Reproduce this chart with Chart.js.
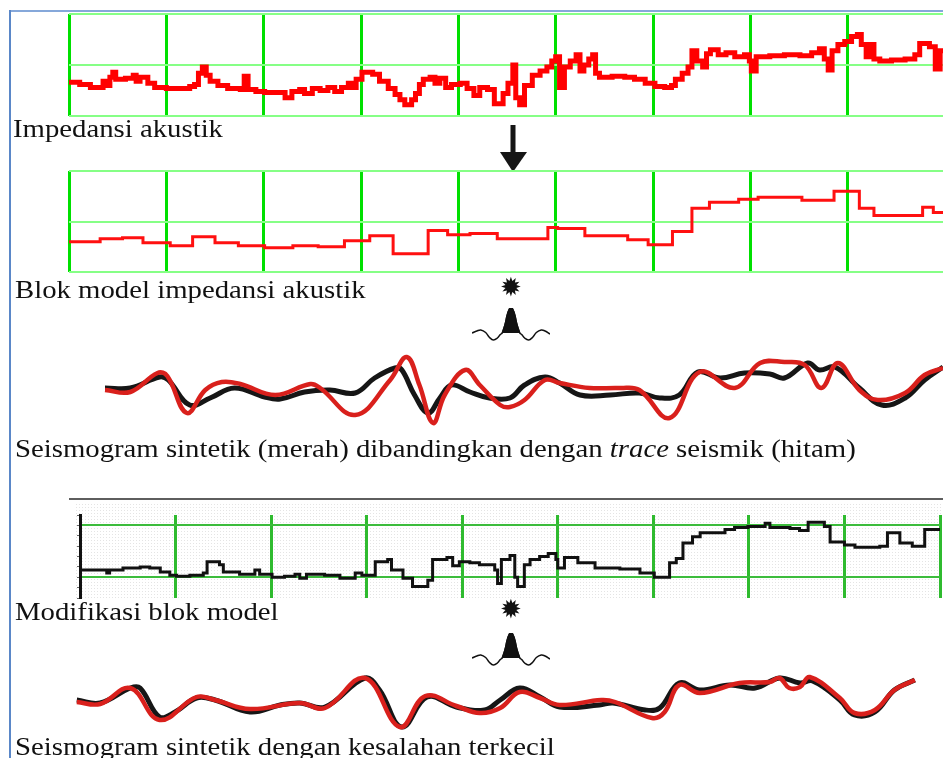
<!DOCTYPE html>
<html>
<head>
<meta charset="utf-8">
<script src="https://cdn.jsdelivr.net/npm/chart.js@4.4.1/dist/chart.umd.min.js"></script>
<style>
  html, body { margin: 0; padding: 0; width: 943px; height: 758px; overflow: hidden; background: #fff; }
  .c { position: absolute; }
  .lbl { position: absolute; font-family: 'Liberation Serif', 'Times New Roman', serif; font-size: 25px; line-height: 25px;
         color: #111; white-space: nowrap; transform-origin: 0 0; transform: scaleX(1.15); }
  .star { position: absolute; font-family: 'DejaVu Sans', sans-serif; font-size: 26px; line-height: 26px; color: #111;
          transform: translate(-50%, -50%); }
</style>
</head>
<body>
<!-- frame -->
<div class="c" style="left:9px;top:10px;width:934px;height:2px;background:#86a8da"></div>
<div class="c" style="left:9px;top:10px;width:2px;height:748px;background:#5a87c8"></div>

<canvas id="imp" class="c" width="896" height="122" style="left:59px;top:4px"></canvas>
<div class="lbl" style="left:13px;top:116px">Impedansi akustik</div>

<svg class="c" style="left:495px;top:120px" width="36" height="56">
  <rect x="15.5" y="5" width="5" height="28" fill="#151515"/>
  <polygon points="5,32 32,32 18,52" fill="#151515"/>
</svg>

<canvas id="block" class="c" width="896" height="121" style="left:59px;top:161px"></canvas>
<div class="lbl" style="left:15px;top:277px">Blok model impedansi akustik</div>

<div class="star" style="left:511px;top:287px">✹</div>
<canvas id="wav1" class="c" width="88" height="45" style="left:467px;top:303px"></canvas>

<canvas id="seis1" class="c" width="896" height="104" style="left:59px;top:338px"></canvas>
<div class="lbl" style="left:15px;top:436px">Seismogram sintetik (merah) dibandingkan dengan <i>trace</i> seismik (hitam)</div>

<div class="c" style="left:69px;top:498px;width:874px;height:2px;background:#5e5e5e"></div>
<canvas id="mod" class="c" width="880" height="105" style="left:70px;top:501px"></canvas>
<div class="lbl" style="left:15px;top:599px">Modifikasi blok model</div>

<div class="star" style="left:511px;top:609px">✹</div>
<canvas id="wav2" class="c" width="88" height="45" style="left:467px;top:628px"></canvas>

<canvas id="seis2" class="c" width="896" height="104" style="left:59px;top:648px"></canvas>
<div class="lbl" style="left:15px;top:734px">Seismogram sintetik dengan kesalahan terkecil</div>

<script>
// Acoustic impedance log (time in ms, impedance in relative units)
const impTime = [0,11,22,32,35,40,42,45,48,58,66,69,73,81,88,100,114,124,129,133,137,141,145,153,163,176,180,184,192,201,214,222,229,237,242,250,258,266,273,280,287,291,295,301,312,319,328,335,340,345,352,356,360,364,371,376,381,387,393,402,409,416,422,430,437,446,451,456,459,463,468,476,484,491,496,500,504,509,515,521,525,529,534,538,541,545,558,571,581,592,602,612,619,623,630,636,640,645,651,655,659,667,675,684,694,699,701,706,720,735,751,763,771,776,780,784,790,797,804,810,814,819,823,827,833,845,859,869,874,884,890,895,900];
const impValue = [33,31,28,28,34,30,38,43,36,37,40,34,38,32,28,27,27,29,31,42,48,40,34,30,27,26,39,26,24,23,23,18,24,26,22,27,25,28,24,28,32,28,36,43,41,34,27,21,16,11,16,22,31,36,38,32,37,28,31,32,27,20,28,26,12,22,32,50,18,11,30,40,44,48,54,58,28,48,54,60,44,50,56,60,42,38,39,38,36,32,29,28,30,36,42,48,64,54,48,61,65,60,62,58,60,54,44,58,59,60,59,62,66,56,45,64,70,73,78,80,70,58,70,56,54,55,56,60,71,68,46,64,64];

// Blocky impedance model
const blockTime = [0,32,55,76,104,127,150,174,201,230,256,283,309,333,369,389,412,440,492,502,530,574,595,620,640,658,688,708,753,786,812,827,877,888,900];
const blockValue = [30,33,34,29,26,35,29,26,24,26,25,31,36,18,41,37,38,33,44,43,36,32,27,40,63,69,72,74,71,80,63,56,64,59,59];

// Wavelet used for convolution
const waveletTime = [-40,-35,-31,-26,-22,-18,-14,-11,-9,-6,-4,-2,0,2,4,6,9,11,14,18,22,26,31,35,40];
const waveletAmp = [0,0.08,0.12,0.02,-0.18,-0.28,-0.2,-0.06,0,0.35,0.7,0.93,1,0.93,0.7,0.35,0,-0.06,-0.2,-0.28,-0.18,0.02,0.12,0.08,-0.04];

// First comparison: seismic trace (black) and synthetic (red)
const traceTime1 = [37,63,93,102,124,145,170,201,217,242,268,294,314,335,342,355,369,381,393,412,432,453,468,489,504,525,556,586,607,627,646,669,694,720,735,759,771,787,812,835,859,879,898];
const traceAmp1 = [2,2,13,10,-15,-8,2,-7,-9,-2,0,-3,12,22,20,-5,-23,-8,5,-2,-8,-8,5,13,7,-5,-5,-3,-8,-5,18,12,17,16,12,27,20,23,2,-15,-8,10,23];
const synthTime1 = [37,63,91,101,121,140,157,176,212,248,258,294,330,347,360,374,386,407,422,443,453,468,489,504,535,566,586,617,648,684,710,735,756,773,790,812,831,859,879,898];
const synthAmp1 = [0,-2,17,14,-23,0,8,6,-5,6,2,-25,10,33,5,-33,-5,20,5,-15,-17,-10,10,7,2,2,0,-28,18,2,27,28,25,2,27,0,-10,-3,15,22];

// Modified block model
const modTime = [0,28,31,45,63,73,84,94,101,115,129,133,146,150,167,183,188,201,214,225,230,237,256,272,288,295,309,322,326,338,348,364,369,384,390,397,408,418,434,437,441,450,455,458,465,471,481,490,498,500,507,521,539,565,586,601,617,624,631,641,649,675,685,699,717,722,743,753,762,779,785,800,811,837,845,858,871,884,900];
const modValue = [27,24,27,29,30,29,25,22,21,22,24,35,32,25,23,27,23,20,21,23,19,23,22,19,24,22,35,37,27,19,11,17,37,39,31,35,34,32,27,14,37,41,20,11,32,37,40,43,37,29,39,34,29,28,24,20,34,38,53,59,63,66,68,69,72,68,67,65,73,69,54,51,49,50,63,53,50,66,66];
const modGridLevels = [20, 70];

// Second comparison: smallest-error synthetic
const traceTime2 = [8,32,63,73,93,109,131,150,186,217,237,263,304,319,342,368,398,427,443,463,484,504,545,559,592,607,627,648,679,705,730,751,764,792,807,828,848,869];
const traceAmp2 = [0,-3,12,12,-17,-12,2,0,-12,-5,-3,-7,22,10,-27,3,-7,-10,0,12,3,-7,-5,-3,-10,-8,17,10,15,12,22,17,19,0,-15,-12,10,20];
const synthTime2 = [8,32,63,93,131,150,186,237,263,304,340,366,398,422,443,463,484,504,547,561,599,612,627,648,689,720,730,740,751,761,792,807,828,848,869];
const synthAmp2 = [-2,-4,12,-20,3,0,-9,-3,-8,22,-27,4,-6,-13,-8,8,2,-5,0,-2,-18,-12,15,7,17,18,22,12,13,23,2,-13,-10,10,20];

const pts = (xs, ys) => xs.map((x, i) => ({ x, y: ys[i] }));

function xAxis(min, max, step, grid) {
  return { type: 'linear', min, max, ticks: { display: false, stepSize: step },
           grid: Object.assign({ drawTicks: false }, grid), border: { display: false },
           afterFit: s => { s.height = 0; } };
}
function yAxis(min, max, step, grid) {
  return { type: 'linear', min, max, ticks: { display: false, stepSize: step },
           grid: Object.assign({ drawTicks: false }, grid), border: { display: false },
           afterFit: s => { s.width = 0; } };
}
function plot(id, padding, datasets, scales, plugins) {
  return new Chart(document.getElementById(id), {
    type: 'line',
    data: { datasets },
    options: {
      responsive: false, animation: false, events: [], devicePixelRatio: 1,
      layout: { padding },
      scales,
      plugins: { legend: { display: false }, tooltip: { enabled: false } },
      elements: { point: { radius: 0 } }
    },
    plugins: plugins || []
  });
}

const pad10 = { left: 10, top: 10, right: 10, bottom: 10 };
const brightV = { color: '#00e000', lineWidth: 3 };
const lightH = { color: '#86ff86', lineWidth: 2 };
const none = { display: false };

// Impedance log
plot('imp', pad10,
  [{ data: pts(impTime, impValue), stepped: true, borderColor: '#ff0000', borderWidth: 5 }],
  { x: xAxis(0, 900, 100, brightV), y: yAxis(0, 100, 50, lightH) });

// Block model
plot('block', pad10,
  [{ data: pts(blockTime, blockValue), stepped: true, borderColor: '#ff1010', borderWidth: 3 }],
  { x: xAxis(0, 900, 100, brightV), y: yAxis(0, 100, 50, lightH) });

// Wavelet icons
function wavelet(id) {
  const lobe = pts(waveletTime.slice(8, 17), waveletAmp.slice(8, 17));
  plot(id, { left: 5, top: 5, right: 5, bottom: 5 },
    [{ data: lobe, borderColor: '#111', borderWidth: 1.5, tension: 0.4, fill: 'origin', backgroundColor: '#111' },
     { data: pts(waveletTime, waveletAmp), borderColor: '#111', borderWidth: 1.5, tension: 0.4, fill: false }],
    { x: xAxis(-40, 40, 10, none), y: yAxis(-0.4, 1.0, 0.5, none) });
}
wavelet('wav1');
wavelet('wav2');

// Seismograms
function seis(id, tT, tA, sT, sA) {
  plot(id, pad10,
    [{ data: pts(sT, sA), borderColor: '#d9201c', borderWidth: 4.5, tension: 0.4 },
     { data: pts(tT, tA), borderColor: '#161616', borderWidth: 5, tension: 0.4 }],
    { x: xAxis(0, 900, 100, none), y: yAxis(-42, 42, 21, none) });
}
seis('seis1', traceTime1, traceAmp1, synthTime1, synthAmp1);
seis('seis2', traceTime2, traceAmp2, synthTime2, synthAmp2);

// Modified block model with stippled background
const stipple = {
  id: 'stipple',
  beforeDraw(chart) {
    const { ctx, chartArea: a } = chart;
    const tile = document.createElement('canvas');
    tile.width = 3; tile.height = 3;
    const t = tile.getContext('2d');
    t.fillStyle = '#e4e4e4';
    t.fillRect(0, 0, 1, 1);
    ctx.save();
    ctx.fillStyle = ctx.createPattern(tile, 'repeat');
    ctx.fillRect(a.left - 5, a.top - 13, chart.width - a.left + 5, a.bottom - a.top + 15);
    ctx.restore();
  }
};
const modY = yAxis(0, 80, 10, { color: '#3cbc3c', lineWidth: 2 });
modY.afterBuildTicks = s => { s.ticks = modGridLevels.map(v => ({ value: v })); };
const modTicks = {
  type: 'linear', position: 'left', min: 0, max: 80,
  ticks: { display: false, stepSize: 10 },
  grid: { drawOnChartArea: false, drawTicks: true, tickLength: 3, color: '#666', lineWidth: 1 },
  border: { display: true, color: '#111', width: 3 },
  afterFit: s => { s.width = 0; }
};
plot('mod', { left: 10, top: 14, right: 10, bottom: 8 },
  [{ data: pts(modTime, modValue), stepped: true, borderColor: '#111', borderWidth: 3 }],
  { x: xAxis(0, 900, 100, { color: '#2fbb2f', lineWidth: 3 }), y: modY, yt: modTicks },
  [stipple]);
</script>
</body>
</html>
